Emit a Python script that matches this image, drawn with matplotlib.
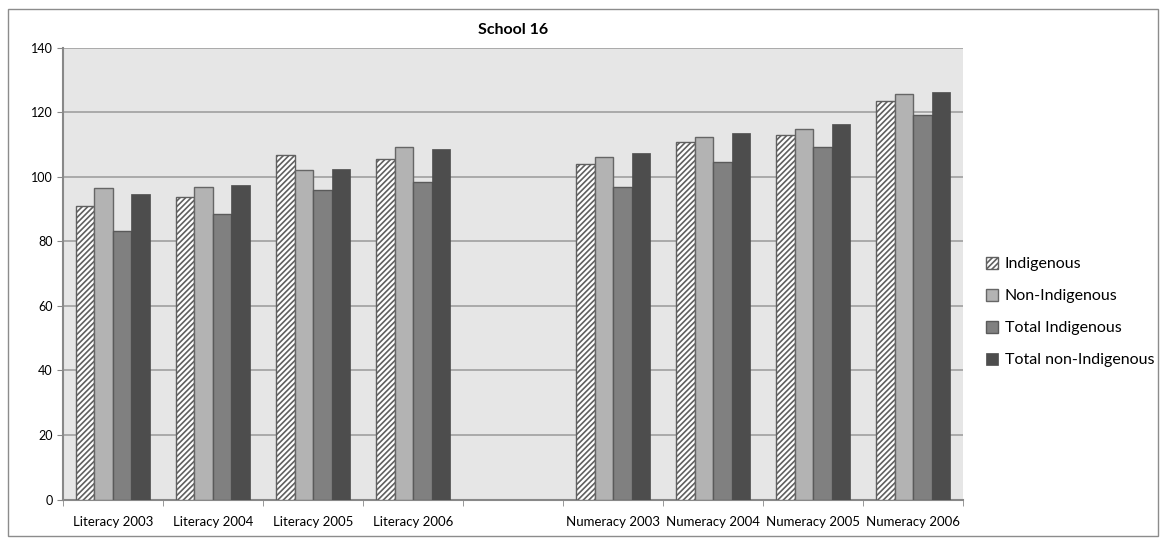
import numpy as np
import matplotlib.pyplot as plt
from matplotlib.patches import Rectangle

## donnees
categories = ['Literacy 2003', 'Literacy 2004', 'Literacy 2005', 'Literacy 2006', '',
              'Numeracy 2003', 'Numeracy 2004', 'Numeracy 2005', 'Numeracy 2006']
indigenous = [91.0, 93.8, 106.7, 105.6, np.nan, 104.1, 110.9, 113.0, 123.6]
non_indigenous = [96.7, 97.0, 102.3, 109.3, np.nan, 106.2, 112.3, 114.8, 125.7]
total_indigenous = [83.3, 88.5, 96.0, 98.3, np.nan, 97.0, 104.5, 109.4, 119.2]
total_non_indigenous = [94.6, 97.6, 102.5, 108.6, np.nan, 107.4, 113.5, 116.4, 126.2]
series_names = ['Indigenous', 'Non-Indigenous', 'Total Indigenous', 'Total non-Indigenous']

plt.rcParams['font.family'] = ['Lato', 'DejaVu Sans']
plt.rcParams['hatch.linewidth'] = 1.2
plt.rcParams['hatch.color'] = '#303030'

fig = plt.figure(figsize=(11.66, 5.44), dpi=100)
ax = fig.add_axes([0.054, 0.0818, 0.772, 0.830])

# cadre du graphique
fig.patches.append(Rectangle((0.007, 0.015), 0.986, 0.968, transform=fig.transFigure,
                             fill=False, edgecolor='#8c8c8c', linewidth=1.0))

x = np.arange(len(categories))
w = 0.185
offsets = np.array([-1.5, -0.5, 0.5, 1.5]) * w
styles = [
    dict(color='white', hatch='//////', edgecolor='#606060', linewidth=1.0),
    dict(color='#b3b3b3', edgecolor='#666666', linewidth=1.0),
    dict(color='#808080', edgecolor='#5a5a5a', linewidth=1.0),
    dict(color='#4d4d4d', edgecolor='#4d4d4d', linewidth=0.5),
]
values = [indigenous, non_indigenous, total_indigenous, total_non_indigenous]
for vals, off, st, name in zip(values, offsets, styles, series_names):
    ax.bar(x + off, vals, w, label=name, zorder=3, **st)

ax.set_xlim(-0.5, len(categories) - 0.5)
ax.set_ylim(0, 140)
ax.set_yticks(range(0, 141, 20))
ax.set_facecolor('#e6e6e6')
ax.grid(axis='y', color='#a0a0a0', linewidth=1.2, zorder=0)
ax.set_axisbelow(True)

ax.set_xticks(x)
ax.set_xticklabels(categories, fontsize=9.5)
ax.tick_params(axis='x', length=0, pad=12)
ax.set_xticks(np.arange(-0.5, len(categories), 1), minor=True)
ax.tick_params(axis='x', which='minor', length=4, color='#888888')
ax.tick_params(axis='y', labelsize=9, length=4, color='#888888')

for s in ['top', 'right']:
    ax.spines[s].set_visible(False)
for s in ['left', 'bottom']:
    ax.spines[s].set_color('#888888')
    ax.spines[s].set_linewidth(1.5)

ax.set_title('School 16', fontsize=11.5, fontweight='bold', pad=10)

ax.legend(loc='center left', bbox_to_anchor=(1.01, 0.415), frameon=False,
          fontsize=11.5, handlelength=0.75, handleheight=0.75, handletextpad=0.4,
          labelspacing=1.1)

fig.savefig('out.png', dpi=100)
